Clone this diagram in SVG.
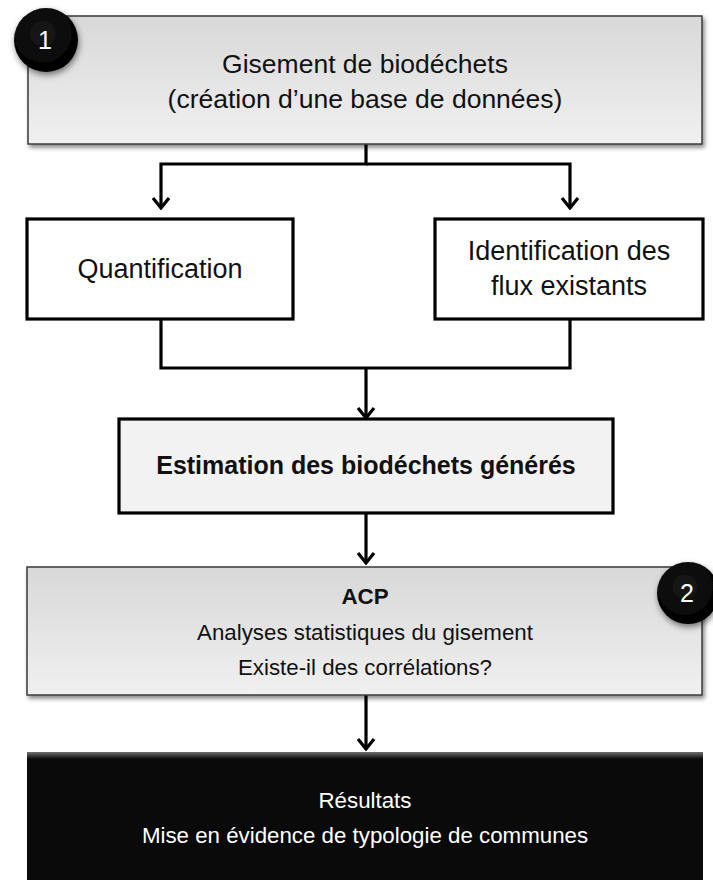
<svg xmlns="http://www.w3.org/2000/svg" width="713" height="880" viewBox="0 0 713 880">
  <defs>
    <linearGradient id="grayGrad" x1="0" y1="0" x2="0" y2="1">
      <stop offset="0" stop-color="#d8d8d8"/>
      <stop offset="1" stop-color="#f0f0f0"/>
    </linearGradient>
    <radialGradient id="ballGrad" cx="0.45" cy="0.4" r="0.6">
      <stop offset="0" stop-color="#1a1a1a"/>
      <stop offset="1" stop-color="#000000"/>
    </radialGradient>
    <linearGradient id="bevelTop" x1="0" y1="0" x2="0" y2="1">
      <stop offset="0" stop-color="#707070"/>
      <stop offset="1" stop-color="#0a0a0a"/>
    </linearGradient>
    <filter id="shadow" x="-10%" y="-10%" width="120%" height="130%">
      <feDropShadow dx="2" dy="3" stdDeviation="2" flood-color="#000" flood-opacity="0.45"/>
    </filter>
    <filter id="ballShadow" x="-30%" y="-30%" width="160%" height="160%">
      <feDropShadow dx="1" dy="3" stdDeviation="3" flood-color="#000" flood-opacity="0.5"/>
    </filter>
    <marker id="arrow" markerUnits="userSpaceOnUse" viewBox="-14 -10 16 20" refX="0" refY="0" markerWidth="16" markerHeight="20" orient="auto">
      <path d="M-10,-8 L0,0 L-10,8" fill="none" stroke="#000" stroke-width="3.2" stroke-linejoin="miter"/>
    </marker>
  </defs>
  <style>
    text { font-family: "Liberation Sans", Arial, sans-serif; fill: #111; text-anchor: middle; }
    .big { font-size: 26.5px; }
    .mid { font-size: 27px; }
    .small { font-size: 22.3px; }
    .bold { font-weight: bold; }
    .white { fill: #ffffff; }
    .num { font-size: 25px; fill: #ffffff; }
    .plainbox { fill: #ffffff; stroke: #000; stroke-width: 3.2; }
    .graybox { fill: url(#grayGrad); stroke: #3a3a3a; stroke-width: 1.5; }
    .conn { fill: none; stroke: #000; stroke-width: 3.2; }
  </style>

  <g id="connectors">
    <path class="conn" d="M366,144 V164 H161 V208" marker-end="url(#arrow)"/>
    <path class="conn" d="M366,164 H570 V208" marker-end="url(#arrow)"/>
    <path class="conn" d="M161,319 V368 H570 V319"/>
    <path class="conn" d="M366,368 V418" marker-end="url(#arrow)"/>
    <path class="conn" d="M366,513 V563" marker-end="url(#arrow)"/>
    <path class="conn" d="M366,695 V749" marker-end="url(#arrow)"/>
  </g>

  <g id="gisement">
    <rect class="graybox" x="28" y="16" width="674" height="128" filter="url(#shadow)"/>
    <text class="big" x="365" y="73">Gisement de biodéchets</text>
    <text class="big" x="365" y="108">(création d’une base de données)</text>
  </g>

  <g id="badge1">
    <circle cx="46" cy="40" r="32" fill="url(#ballGrad)" filter="url(#ballShadow)"/>
    <text class="num" x="45" y="49">1</text>
  </g>

  <g id="quantification">
    <rect class="plainbox" x="27" y="219" width="266" height="100"/>
    <text class="mid" x="160" y="278">Quantification</text>
  </g>

  <g id="identification">
    <rect class="plainbox" x="435" y="219" width="268" height="100"/>
    <text class="mid" x="569" y="260">Identification des</text>
    <text class="mid" x="569" y="295">flux existants</text>
  </g>

  <g id="estimation">
    <rect x="119" y="419" width="494" height="94" fill="#f2f2f2" stroke="#000" stroke-width="3.2"/>
    <text class="bold" x="366" y="474" style="font-size:25px">Estimation des biodéchets générés</text>
  </g>

  <g id="acp">
    <rect class="graybox" x="27" y="567" width="675" height="128" filter="url(#shadow)"/>
    <text class="small bold" x="365" y="604">ACP</text>
    <text class="small" x="365" y="640">Analyses statistiques du gisement</text>
    <text class="small" x="365" y="675">Existe-il des corrélations?</text>
  </g>

  <g id="badge2">
    <circle cx="688" cy="593" r="31" fill="url(#ballGrad)" filter="url(#ballShadow)"/>
    <text class="num" x="687" y="602">2</text>
  </g>

  <g id="resultats">
    <rect x="27" y="752" width="676" height="128" fill="#0a0a0a"/>
    <rect x="27" y="752" width="676" height="7" fill="url(#bevelTop)"/>
    <text class="small white" x="365" y="808">Résultats</text>
    <text class="small white" x="365" y="843">Mise en évidence de typologie de communes</text>
  </g>
</svg>
